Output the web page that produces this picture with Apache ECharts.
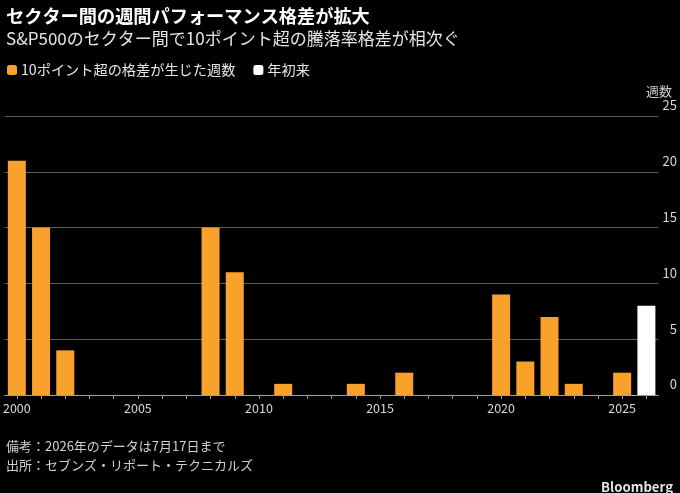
<!DOCTYPE html>
<html><head><meta charset="utf-8">
<script src="https://cdn.jsdelivr.net/npm/echarts@6/dist/echarts.min.js"></script>
<style>html,body{margin:0;padding:0;background:#000;}#c{width:680px;height:493px;}</style>
</head><body><div id="c"></div>
<script>
const years = ['2000','2001','2002','2003','2004','2005','2006','2007','2008','2009','2010','2011','2012','2013','2014','2015','2016','2017','2018','2019','2020','2021','2022','2023','2024','2025','2026'];
const weeksFull = [21,15,4,0,0,0,0,0,15,11,0,1,0,0,1,0,2,0,0,0,9,3,7,1,0,2,null];
const weeksYTD = [null,null,null,null,null,null,null,null,null,null,null,null,null,null,null,null,null,null,null,null,null,null,null,null,null,null,8];
const yTicks = [0,5,10,15,20,25];
const seriesNames = ['10ポイント超の格差が生じた週数','年初来'];

const FONT = '"Noto Sans CJK JP", "Noto Sans", sans-serif';
const chart = echarts.init(document.getElementById('c'));
chart.setOption({
  backgroundColor: '#000',
  animation: false,
  textStyle: {fontFamily: FONT},
  title: [
    {text: 'セクター間の週間パフォーマンス格差が拡大', left: 1, top: 2,
     textStyle: {color: '#fff', fontSize: 18.2, fontWeight: 'bold', fontFamily: FONT}},
    {text: 'S&P500のセクター間で10ポイント超の騰落率格差が相次ぐ', left: 1, top: 25,
     textStyle: {color: '#e6e6e6', fontSize: 17, fontWeight: 'normal', fontFamily: FONT}},
    {text: '備考：2026年のデータは7月17日まで', left: 1, top: 435,
     textStyle: {color: '#cfcfcf', fontSize: 13, fontWeight: 'normal', fontFamily: FONT}},
    {text: '出所：セブンズ・リポート・テクニカルズ', left: 1, top: 454,
     textStyle: {color: '#cfcfcf', fontSize: 13, fontWeight: 'normal', fontFamily: FONT}},
    {text: 'Bloomberg', right: 2, top: 475,
     textStyle: {color: '#e6e6e6', fontSize: 13.2, fontWeight: 'bold', fontFamily: FONT}},
    {text: '週数', right: 3, top: 80,
     textStyle: {color: '#cfcfcf', fontSize: 13, fontWeight: 'normal', fontFamily: FONT}}
  ],
  legend: {
    left: 2, top: 58, itemWidth: 10, itemHeight: 10, itemGap: 18,
    icon: 'roundRect',
    textStyle: {color: '#e6e6e6', fontSize: 14.2, fontFamily: FONT, padding: [0,0,0,-1]},
    data: seriesNames
  },
  grid: {left: 4, right: 20.5, top: 116, bottom: 98},
  xAxis: {
    type: 'category', data: years,
    axisLine: {lineStyle: {color: '#a0a0a0', width: 1}},
    axisTick: {show: true, interval: 0, alignWithLabel: true, length: 4, lineStyle: {color: '#a0a0a0'}},
    axisLabel: {color: '#d9d9d9', fontSize: 12.5, margin: 7,
      interval: (i, v) => Number(v) % 5 === 0}
  },
  yAxis: {
    type: 'value', position: 'right', min: 0, max: 25, interval: 5,
    splitLine: {lineStyle: {color: '#5e5e5e', width: 1}},
    axisLine: {show: false}, axisTick: {show: false},
    axisLabel: {color: '#d9d9d9', fontSize: 13, align: 'right', margin: 18.5,
      verticalAlign: 'bottom', padding: [0,0,4,0],
      formatter: v => yTicks.includes(v) ? String(v) : ''}
  },
  series: [
    {name: seriesNames[0], type: 'bar', data: weeksFull, barWidth: 18, barGap: '-100%',
     itemStyle: {color: '#f8a12b'}},
    {name: seriesNames[1], type: 'bar', data: weeksYTD, barWidth: 18, barGap: '-100%',
     itemStyle: {color: '#ffffff'}}
  ]
});
</script></body></html>
